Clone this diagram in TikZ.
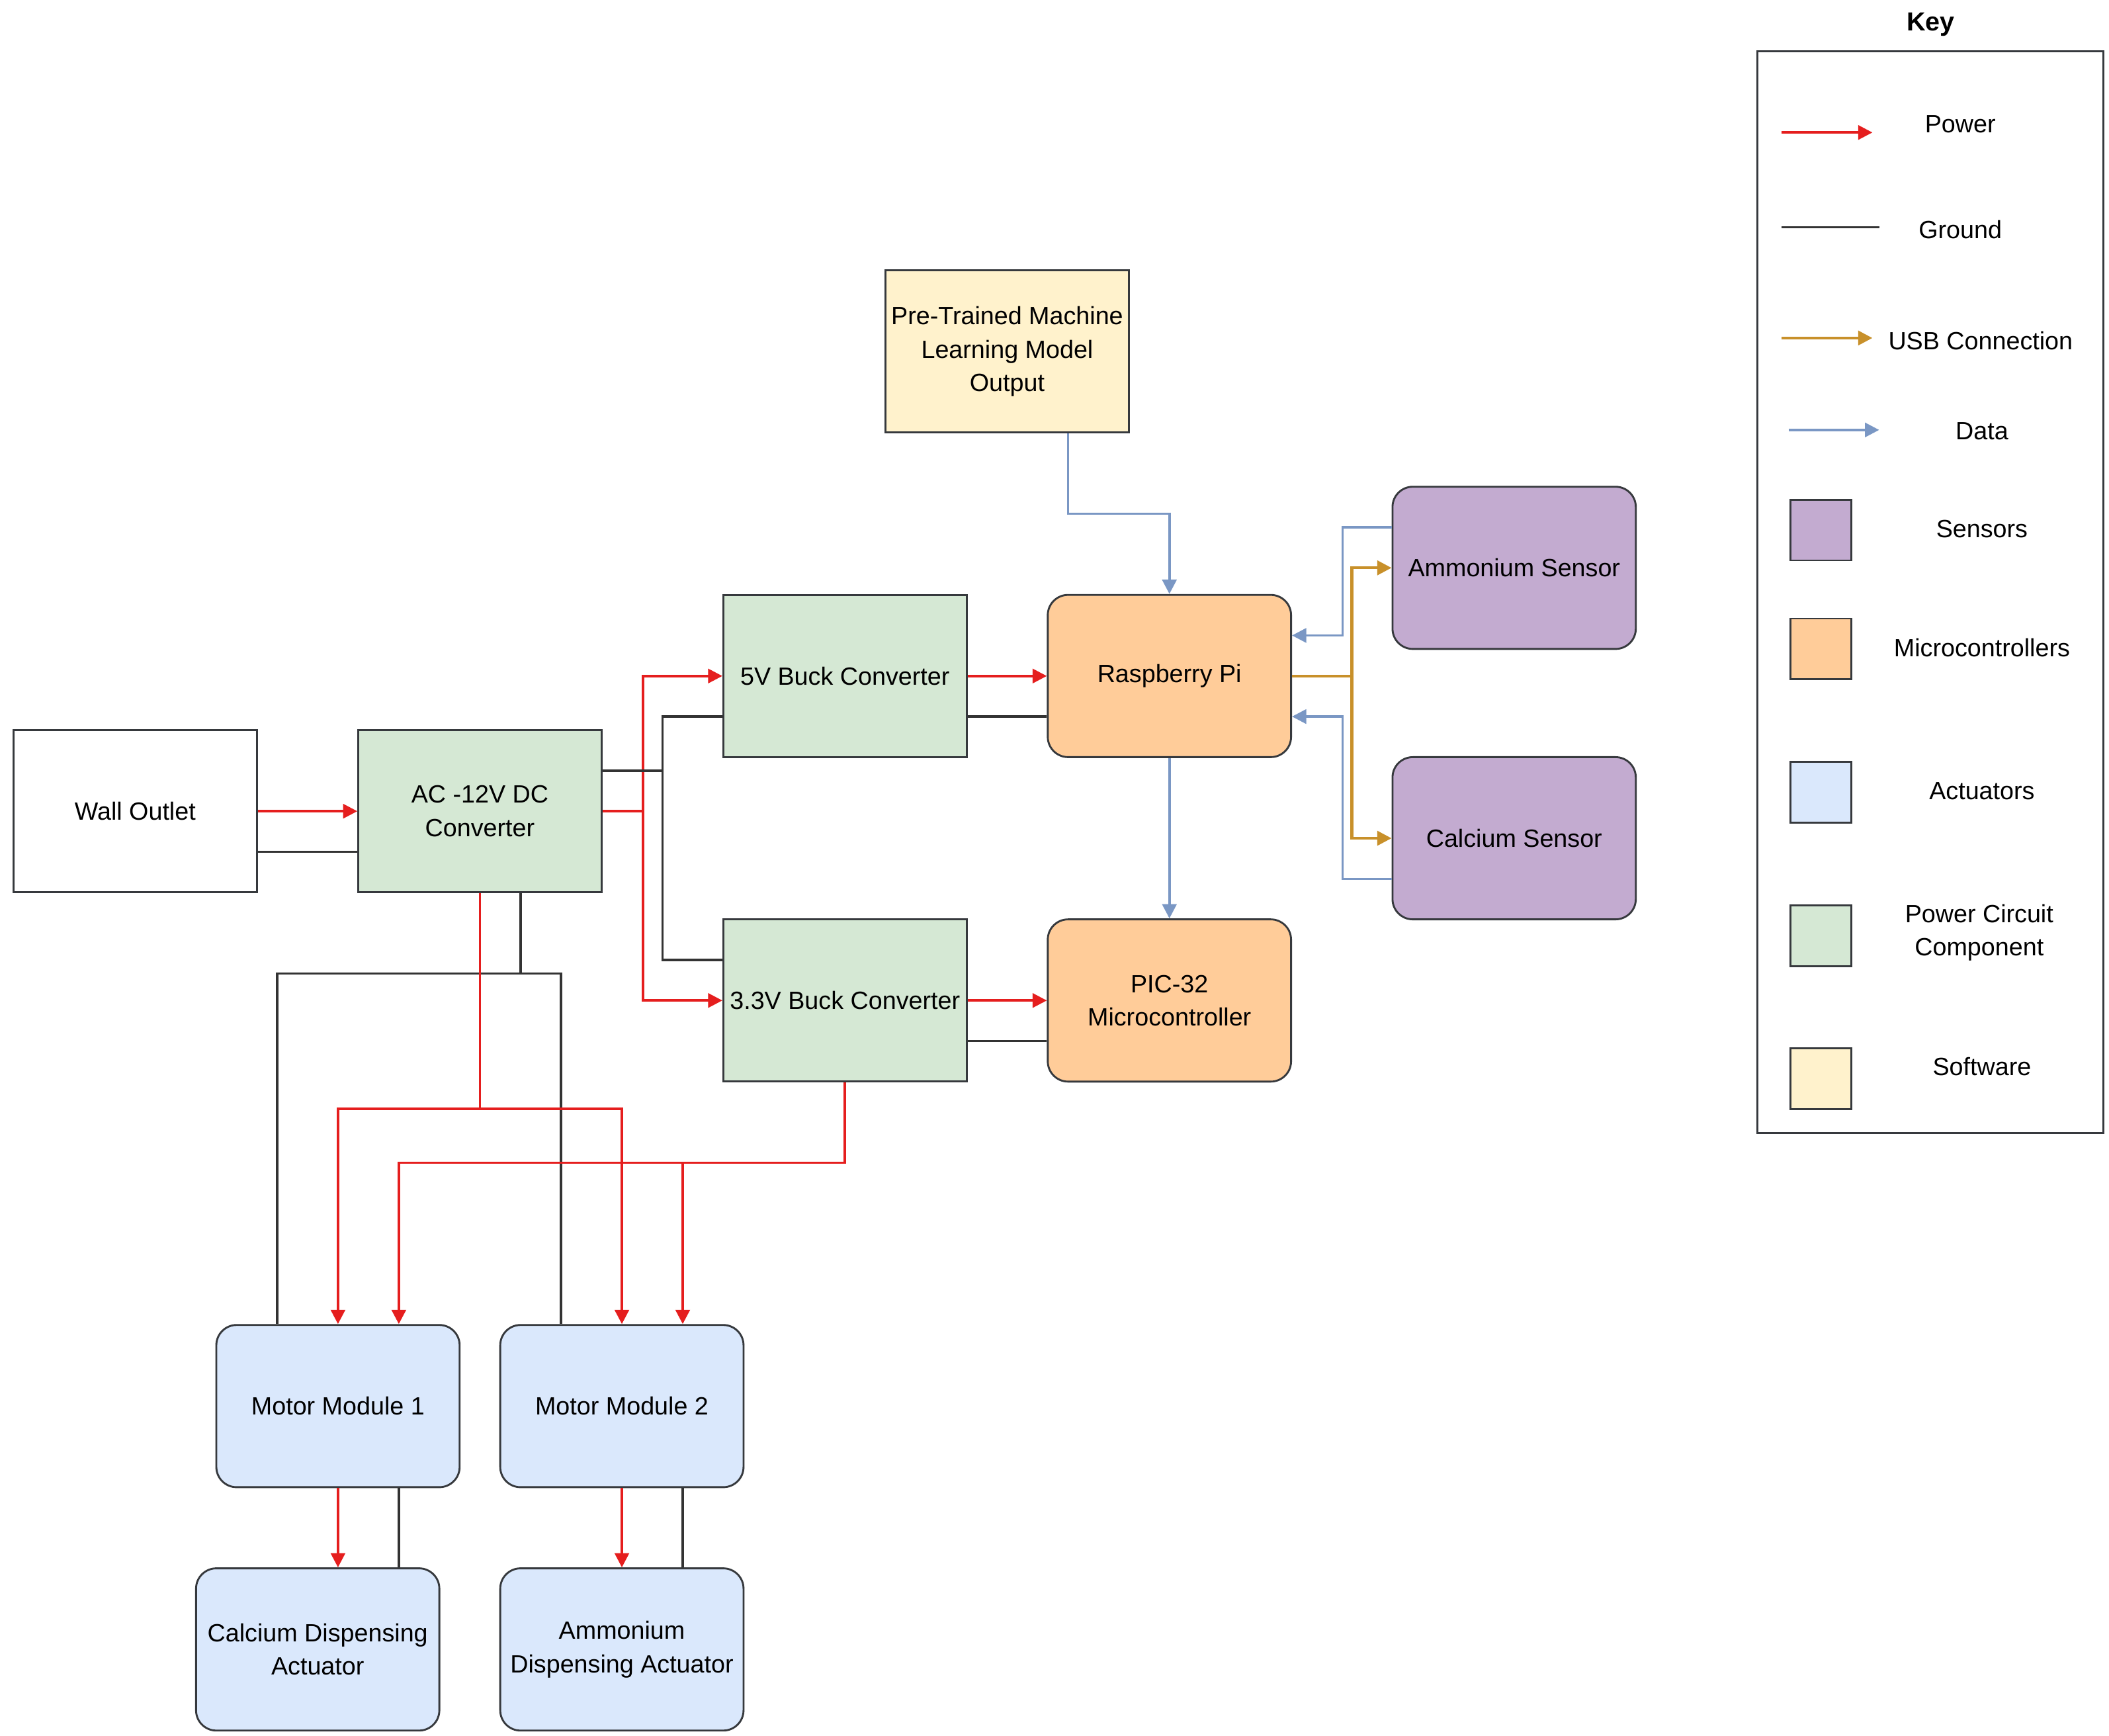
\documentclass[tikz,border=0pt]{standalone}
\usepackage{fontspec}
\setmainfont{Liberation Sans}
\usetikzlibrary{arrows.meta,calc}
\definecolor{edgegray}{HTML}{36393D}
\definecolor{pwrred}{HTML}{E51E1E}
\definecolor{datblue}{HTML}{7A97C4}
\definecolor{usbgold}{HTML}{C8902A}
\definecolor{greenfill}{HTML}{D5E8D4}
\definecolor{orangefill}{HTML}{FFCC99}
\definecolor{purplefill}{HTML}{C3ABD0}
\definecolor{bluefill}{HTML}{DAE8FC}
\definecolor{yellowfill}{HTML}{FFF2CC}
\begin{document}
\begin{tikzpicture}[x=0.02cm,y=-0.02cm,font=\fontsize{10.5}{14}\selectfont,
  block/.style={draw=edgegray,line width=0.8pt,minimum width=3.6cm,minimum height=2.4cm,align=center,inner sep=2pt},
  round_block/.style={block,rounded corners=0.3cm},
  key_box/.style={draw=edgegray,line width=0.8pt,minimum width=0.9cm,minimum height=0.9cm},
  pwr/.style={pwrred,line width=1pt,-{Triangle[length=6pt,width=6pt]}},
  gnd/.style={black!80,line width=1pt},
  dat/.style={datblue,line width=1pt,-{Triangle[length=6pt,width=6pt]}},
  usb/.style={usbgold,line width=1.2pt,-{Triangle[length=6pt,width=6pt]}}]
\useasboundingbox (0,0) rectangle (1560,1284);

% blocks
\node[block] (wall) at (100,600) {Wall Outlet};
\node[block,fill=greenfill] (ac) at (355,600) {AC -12V DC\\Converter};
\node[block,fill=greenfill] (buck5) at (625,500) {5V Buck Converter};
\node[block,fill=greenfill] (buck3) at (625,740) {3.3V Buck Converter};
\node[round_block,fill=orangefill] (rpi) at (865,500) {Raspberry Pi};
\node[round_block,fill=orangefill] (pic) at (865,740) {PIC-32\\Microcontroller};
\node[block,fill=yellowfill] (ml) at (745,260) {Pre-Trained Machine\\Learning Model\\Output};
\node[round_block,fill=purplefill] (amm) at (1120,420) {Ammonium Sensor};
\node[round_block,fill=purplefill] (cal) at (1120,620) {Calcium Sensor};
\node[round_block,fill=bluefill] (m1) at (250,1040) {Motor Module 1};
\node[round_block,fill=bluefill] (m2) at (460,1040) {Motor Module 2};
\node[round_block,fill=bluefill] (cda) at (235,1220) {Calcium Dispensing\\Actuator};
\node[round_block,fill=bluefill] (ada) at (460,1220) {Ammonium\\Dispensing Actuator};

% power and ground
\draw[pwr] (wall.east) -- (ac.west);
\draw[gnd] (wall.east |- 0,630) -- (ac.west |- 0,630);
\draw[pwr] (ac.east) -- ++(30,0) |- (buck5.west);
\draw[pwr] (ac.east) -- ++(30,0) |- (buck3.west);
\draw[gnd] (ac.east |- 0,570) -- (490,570) |- (buck5.west |- 0,530);
\draw[gnd] (490,570) |- (buck3.west |- 0,710);
\draw[pwr] (buck5.east) -- (rpi.west);
\draw[gnd] (buck5.east |- 0,530) -- (rpi.west |- 0,530);
\draw[pwr] (buck3.east) -- (pic.west);
\draw[gnd] (buck3.east |- 0,770) -- (pic.west |- 0,770);
\draw[gnd] (ac.south -| 385,0) -- (385,720) -| (m1.north -| 205,0);
\draw[gnd] (385,720) -| (m2.north -| 415,0);
\draw[pwr] (ac.south) -- (355,820) -| (m1.north);
\draw[pwr] (355,820) -| (m2.north);
\draw[pwr] (buck3.south) -- (625,860) -| (m1.north -| 295,0);
\draw[pwr] (625,860) -| (m2.north -| 505,0);
\draw[pwr] (m1.south) -- (m1.south |- cda.north);
\draw[gnd] (m1.south -| 295,0) -- (cda.north -| 295,0);
\draw[pwr] (m2.south) -- (ada.north);
\draw[gnd] (m2.south -| 505,0) -- (ada.north -| 505,0);

% data and usb
\draw[dat] (ml.south -| 790,0) -- (790,380) -| (rpi.north);
\draw[dat] (rpi.south) -- (pic.north);
\draw[dat] (amm.west |- 0,390) -- (993,390) |- (rpi.east |- 0,470);
\draw[dat] (cal.west |- 0,650) -- (993,650) |- (rpi.east |- 0,530);
\draw[usb] (rpi.east) -- (1000,500) |- (amm.west);
\draw[usb] (1000,500) |- (cal.west);

% key
\node[font=\fontsize{11}{13}\selectfont\bfseries] (keytitle) at (1428,18) {Key};
\draw[edgegray,line width=0.8pt] (1300,38) rectangle (1556,838);
\coordinate (kp1) at (1318,98); \coordinate (kp2) at (1385,98);
\coordinate (kg1) at (1318,168); \coordinate (kg2) at (1390,168);
\coordinate (ku1) at (1318,250); \coordinate (ku2) at (1385,250);
\coordinate (kd1) at (1323,318); \coordinate (kd2) at (1390,318);
\draw[pwr] (kp1) -- (kp2);
\draw[gnd] (kg1) -- (kg2);
\draw[usb] (ku1) -- (ku2);
\draw[dat] (kd1) -- (kd2);
\node (kpower) at (1450,92) {Power};
\node (kground) at (1450,170) {Ground};
\node (kusb) at (1465,252) {USB Connection};
\node (kdata) at (1466,319) {Data};
\node[key_box,fill=purplefill] (ksens) at (1347,392) {};
\node[key_box,fill=orangefill] (kmicro) at (1347,480) {};
\node[key_box,fill=bluefill] (kact) at (1347,586) {};
\node[key_box,fill=greenfill] (kpc) at (1347,692) {};
\node[key_box,fill=yellowfill] (ksoft) at (1347,798) {};
\node at (1466,391) {Sensors};
\node at (1466,479) {Microcontrollers};
\node at (1466,585) {Actuators};
\node[align=center] at (1464,690) {Power Circuit\\Component};
\node at (1466,789) {Software};
\end{tikzpicture}
\end{document}
